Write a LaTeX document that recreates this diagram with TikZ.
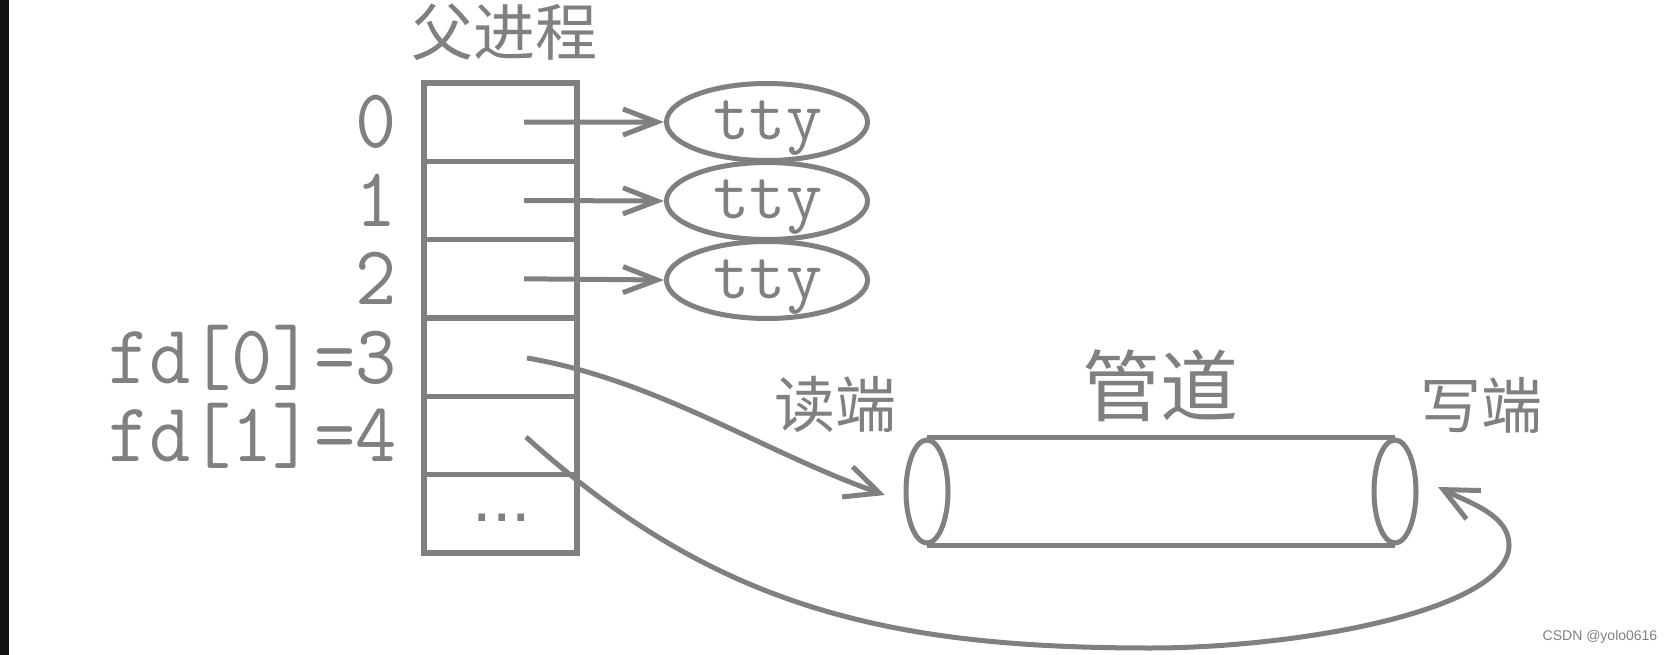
\documentclass[tikz,border=0pt]{standalone}
\usepackage{fontspec}
\usepackage{graphicx}
\newfontfamily\cjk{Noto Sans CJK SC}
\newfontfamily\wmfont{Liberation Sans}
\usetikzlibrary{shapes.geometric,arrows.meta}
\definecolor{ink}{RGB}{128,128,128}
\definecolor{stripcol}{RGB}{17,17,17}
\begin{document}
\begin{tikzpicture}[x=1pt,y=-1pt,line width=5pt,color=ink,
  cell/.style={draw=ink,rectangle,minimum width=153pt,minimum height=78.33pt,inner sep=0pt,line width=5.5pt},
  ttyell/.style={draw=ink,ellipse,minimum width=201pt,minimum height=77pt,inner sep=0pt},
  pipeend/.style={draw=ink,ellipse,minimum width=42pt,minimum height=103pt,inner sep=0pt},
  numlabel/.style={anchor=base east,inner sep=0pt,text=ink,font=\ttfamily\fontsize{80}{80}\selectfont},
  ttytext/.style={anchor=base,inner sep=0pt,text=ink,font=\ttfamily\fontsize{70}{70}\selectfont},
  cjklabel/.style={inner sep=0pt,text=ink},
  smalltip/.style={-{Straight Barb[length=34pt,width=26pt]}},
  bigtip/.style={-{Straight Barb[length=34pt,width=32pt]}}
]
\fill[white] (0,0) rectangle (1668,655);
\useasboundingbox (0,0) rectangle (1668,655);
\fill[stripcol] (0,0) rectangle (9,655);

% title
\node[cjklabel,font=\cjk\fontsize{62}{62}\selectfont] (title) at (504,32) {父进程};

% table rows
\node[cell] (r0) at (500.5,122.2) {};
\node[cell] (r1) at (500.5,200.5) {};
\node[cell] (r2) at (500.5,278.8) {};
\node[cell] (r3) at (500.5,357.2) {};
\node[cell] (r4) at (500.5,435.5) {};
\node[cell] (r5) at (500.5,513.8) {};
\node[inner sep=0pt,text=ink,font=\wmfont\fontsize{70}{70}\selectfont] (dots) at (502,518) {...};

% row labels
\node[numlabel] (l0) at (399,148) {\scalebox{1}[1.05]{0}};
\node[numlabel] (l1) at (399,226.5) {\scalebox{1}[1.05]{1}};
\node[numlabel] (l2) at (399,304.8) {\scalebox{1}[1.05]{2}};
\node[numlabel] (l3) at (399,383) {\scalebox{1}[1.05]{fd[0]=3}};
\node[numlabel] (l4) at (399,461.5) {\scalebox{1}[1.05]{fd[1]=4}};

% tty ellipses
\node[ttyell] (e0) at (767,122) {};
\node[ttyell] (e1) at (767,201) {};
\node[ttyell] (e2) at (767,280) {};
\node[ttytext] (t0) at (768,140) {tty};
\node[ttytext] (t1) at (768,219) {tty};
\node[ttytext] (t2) at (768,298) {tty};

\coordinate (a0) at (524,122.2);
\coordinate (a1) at (524,200.5);
\coordinate (a2) at (524,278.8);
\draw[smalltip] (a0) -- (e0.west);
\draw[smalltip] (a1) -- (e1.west);
\draw[smalltip] (a2) -- (e2.west);

% pipe
\node[pipeend] (pl) at (927,491.5) {};
\node[pipeend] (pr) at (1395,491.5) {};
\draw (pl.north) -- (pr.north);
\draw (pl.south) -- (pr.south);
\node[cjklabel,font=\cjk\fontsize{78}{78}\selectfont] (pipe) at (1160,386) {管道};
\node[cjklabel,font=\cjk\fontsize{61}{61}\selectfont] (rd) at (835,404) {读端};
\node[cjklabel,font=\cjk\fontsize{61}{61}\selectfont] (wr) at (1481,405) {写端};

% curved connectors
\coordinate (s3) at (527,358);
\coordinate (p3) at (885,495);
\draw[bigtip] (s3) .. controls (657,380) and (765,453) .. (p3);

\coordinate (s4) at (526,437);
\coordinate (m4) at (1150,648);
\coordinate (q4) at (1509,545);
\coordinate (p4) at (1438,487);
\draw[bigtip] (s4) .. controls (716,609) and (891,648) .. (m4)
  .. controls (1300,648) and (1509,610) .. (q4)
  .. controls (1509,515) and (1470,503) .. (p4);

% watermark
\node[inner sep=0pt,text=ink,font=\wmfont\fontsize{14}{14}\selectfont] (wm) at (1600,637) {CSDN @yolo0616};
\end{tikzpicture}
\end{document}
